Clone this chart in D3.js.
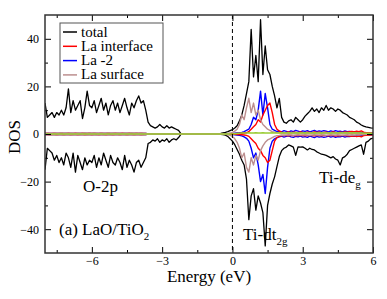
<!DOCTYPE html>
<html lang="en">
<head>
<meta charset="UTF-8">
<title>DOS LaO/TiO2</title>
<style>
  body { margin: 0; background: #fff; }
  svg text { font-family: "Liberation Serif", "DejaVu Serif", serif; fill: #000; }
</style>
</head>
<body>
<div id="chart"></div>
<script src="https://cdn.jsdelivr.net/npm/d3@7/dist/d3.min.js"></script>
<script>
// energy grid: -8 .. 6 eV, step 0.1
let eStart = -8
let eStep = 0.1
let xTicks = [-6, -3, 0, 3, 6]
let xMinor = [-7.5, -4.5, -1.5, 1.5, 4.5]
let yTicks = [-40, -20, 0, 20, 40]
let yMinor = [-30, -10, 10, 30]

// total DOS, spin up / spin down
let total_up = [
  13, 7, 8, 9, 7, 9, 8, 10, 8, 11,
  19, 9, 14, 10, 12, 14, 6.5, 11, 18, 12,
  11, 14, 9, 12, 15, 10, 13, 8, 12, 14,
  10, 13, 9, 12, 15, 11, 8, 13, 11, 14,
  16, 13, 14, 10, 5, 3.5, 3, 2.5, 3, 4,
  3, 2.5, 3.5, 2.5, 3, 2.5, 2, 1.5, 0.2, 0,
  0, 0, 0, 0, 0, 0, 0, 0, 0, 0,
  0, 0, 0, 0, 0.2, 0.3, 0.5, 0.7, 1.0, 1.4,
  1.8, 2.5, 3.5, 5.5, 8, 12, 17, 22, 44, 24,
  33, 22, 48, 25, 37, 27, 25, 20, 16, 11,
  15, 7, 5, 4.5, 5.5, 6, 5, 7, 6, 5,
  6, 7.5, 8.5, 9.5, 11, 9.5, 10.5, 9, 11, 10,
  12, 10, 11, 10.5, 9.5, 10.5, 10, 9, 8.5, 8,
  7, 6.5, 6, 5, 4.5, 3.8, 3.3, 3, 2.8, 2.6, 2.5
]
let total_dn = [
  -15, -6, -7, -8, -11, -9, -12, -10, -13, -8,
  -10, -14, -8, -16, -9, -12, -15, -10, -13, -11,
  -12, -9, -14, -10, -13, -8, -11, -14, -9, -12,
  -13, -10, -12, -15, -9, -14, -11, -13, -16, -12,
  -11, -14, -12, -10, -4, -3.5, -2.5, -3, -2, -3.5,
  -2.5, -3, -2, -3.5, -2.5, -2, -2.5, -1.5, -0.2, 0,
  0, 0, 0, 0, 0, 0, 0, 0, 0, 0,
  0, 0, 0, 0, 0, -0.1, -0.3, -0.5, -1, -2,
  -3, -4.5, -6.5, -8.5, -11, -13, -19, -36, -26, -23,
  -32, -26, -29, -33, -47, -30, -25, -21, -18, -13.7,
  -9.5, -7, -6, -5.5, -4.6, -5, -5.5, -9, -5.4, -5.5,
  -5.4, -6, -6.7, -6, -6.5, -6.7, -7.5, -8, -8.5, -8.7,
  -9, -9.5, -10, -9.5, -10.5, -11, -13, -10, -9.5, -8.5,
  -7, -6.5, -6, -5.5, -5, -4.6, -8.5, -3.5, -3, -2, -1.7
]

// La interface (red)
let laInt_up = [
  0.2, 0.3, 0.2, 0.2, 0.3, 0.2, 0.2, 0.3, 0.2, 0.2,
  0.3, 0.2, 0.2, 0.3, 0.2, 0.2, 0.3, 0.2, 0.2, 0.3,
  0.2, 0.3, 0.2, 0.2, 0.3, 0.2, 0.2, 0.3, 0.2, 0.2,
  0.3, 0.2, 0.2, 0.3, 0.2, 0.2, 0.3, 0.2, 0.2, 0.3,
  0.2, 0.3, 0.2, 0.2, 0, 0, 0, 0, 0, 0,
  0, 0, 0, 0, 0, 0, 0, 0, 0, 0,
  0, 0, 0, 0, 0, 0, 0, 0, 0, 0,
  0, 0, 0, 0, 0, 0, 0, 0, 0, 0.1,
  0.1, 0.1, 0.2, 0.2, 0.3, 0.4, 0.5, 1, 2, 3,
  4, 6, 5, 8, 10, 12, 13, 9, 4, 2,
  1.2, 0.8, 0.6, 0.7, 0.9, 0.6, 0.8, 0.7, 0.6, 0.9,
  0.7, 0.6, 0.8, 0.7, 0.6, 0.9, 0.7, 0.8, 0.6, 0.7,
  0.8, 0.6, 0.7, 0.9, 0.7, 0.6, 0.8, 0.7, 0.9, 0.8,
  1.0, 1.1, 0.9, 1.2, 1.0, 1.3, 0.8, 0.6, 0.5, 0.4, 0.4
]
let laInt_dn = [
  -0.2, -0.2, -0.3, -0.2, -0.2, -0.3, -0.2, -0.2, -0.3, -0.2,
  -0.2, -0.3, -0.2, -0.2, -0.3, -0.2, -0.2, -0.3, -0.2, -0.2,
  -0.3, -0.2, -0.2, -0.3, -0.2, -0.2, -0.3, -0.2, -0.2, -0.3,
  -0.2, -0.2, -0.3, -0.2, -0.2, -0.3, -0.2, -0.2, -0.3, -0.2,
  -0.2, -0.3, -0.2, -0.2, 0, 0, 0, 0, 0, 0,
  0, 0, 0, 0, 0, 0, 0, 0, 0, 0,
  0, 0, 0, 0, 0, 0, 0, 0, 0, 0,
  0, 0, 0, 0, 0, 0, 0, 0, 0, -0.1,
  -0.1, -0.1, -0.2, -0.2, -0.3, -0.4, -0.6, -1, -2, -3,
  -4, -6, -7, -9, -10, -12, -11, -7, -3, -1.5,
  -1, -0.8, -0.6, -0.7, -0.8, -0.6, -0.7, -0.8, -0.6, -0.7,
  -0.6, -0.8, -0.7, -0.6, -0.7, -0.8, -0.6, -0.7, -0.8, -0.6,
  -0.7, -0.8, -0.6, -0.7, -0.9, -0.7, -0.8, -0.6, -0.7, -0.8,
  -0.9, -1.0, -0.8, -1.1, -0.9, -1.2, -0.7, -0.6, -0.5, -0.4, -0.4
]

// La -2 (blue)
let la2_up = [
  0.2, 0.2, 0.2, 0.2, 0.2, 0.2, 0.2, 0.2, 0.2, 0.2,
  0.2, 0.2, 0.2, 0.2, 0.2, 0.2, 0.2, 0.2, 0.2, 0.2,
  0.2, 0.2, 0.2, 0.2, 0.2, 0.2, 0.2, 0.2, 0.2, 0.2,
  0.2, 0.2, 0.2, 0.2, 0.2, 0.2, 0.2, 0.2, 0.2, 0.2,
  0.2, 0.2, 0.2, 0.2, 0, 0, 0, 0, 0, 0,
  0, 0, 0, 0, 0, 0, 0, 0, 0, 0,
  0, 0, 0, 0, 0, 0, 0, 0, 0, 0,
  0, 0, 0, 0, 0, 0, 0, 0, 0.1, 0.1,
  0.2, 0.3, 0.4, 0.5, 0.7, 1, 1.5, 2, 4, 7,
  6, 10, 18, 8, 17, 11, 4, 2, 1.5, 1,
  1.2, 0.9, 1.4, 1.1, 0.8, 1.3, 1.0, 1.5, 1.2, 0.9,
  1.3, 1.1, 1.4, 0.9, 1.2, 1.5, 1.0, 1.3, 1.1, 1.4,
  1.2, 0.9, 1.3, 1.0, 1.4, 1.1, 1.2, 0.9, 1.3, 1.0,
  1.1, 0.9, 1.0, 0.8, 0.9, 0.7, 0.6, 0.5, 0.5, 0.4, 0.4
]
let la2_dn = [
  -0.2, -0.2, -0.2, -0.2, -0.2, -0.2, -0.2, -0.2, -0.2, -0.2,
  -0.2, -0.2, -0.2, -0.2, -0.2, -0.2, -0.2, -0.2, -0.2, -0.2,
  -0.2, -0.2, -0.2, -0.2, -0.2, -0.2, -0.2, -0.2, -0.2, -0.2,
  -0.2, -0.2, -0.2, -0.2, -0.2, -0.2, -0.2, -0.2, -0.2, -0.2,
  -0.2, -0.2, -0.2, -0.2, 0, 0, 0, 0, 0, 0,
  0, 0, 0, 0, 0, 0, 0, 0, 0, 0,
  0, 0, 0, 0, 0, 0, 0, 0, 0, 0,
  0, 0, 0, 0, 0, 0, 0, 0, -0.1, -0.1,
  -0.2, -0.3, -0.4, -0.6, -0.8, -1.2, -1.8, -3, -6, -10,
  -8, -13, -20, -17, -25, -14, -6, -3, -2, -1.5,
  -1.2, -0.9, -1.3, -1.0, -0.8, -1.2, -1.4, -1.0, -1.2, -0.9,
  -1.3, -1.1, -1.4, -0.9, -1.2, -1.5, -1.0, -1.3, -1.1, -1.4,
  -1.2, -0.9, -1.3, -1.0, -1.4, -1.1, -1.2, -0.9, -1.3, -1.0,
  -1.1, -0.9, -1.0, -0.8, -0.9, -0.7, -0.6, -0.5, -0.5, -0.4, -0.4
]

// La surface (rosy brown)
let laSurf_up = [
  0.3, 0.4, 0.3, 0.2, 0.4, 0.3, 0.3, 0.5, 0.3, 0.4,
  0.3, 0.4, 0.3, 0.2, 0.4, 0.3, 0.3, 0.5, 0.3, 0.4,
  0.3, 0.4, 0.3, 0.2, 0.4, 0.3, 0.3, 0.5, 0.3, 0.4,
  0.3, 0.4, 0.3, 0.2, 0.4, 0.3, 0.3, 0.5, 0.3, 0.4,
  0.3, 0.4, 0.3, 0.2, 0, 0, 0, 0, 0, 0,
  0, 0, 0, 0, 0, 0, 0, 0, 0, 0,
  0, 0, 0, 0, 0, 0, 0, 0, 0, 0,
  0, 0, 0, 0, 0, 0, 0, 0.1, 0.2, 0.4,
  0.7, 1.2, 2, 4, 8, 6, 11, 15, 9, 13,
  8, 10, 6, 4, 3, 2, 1.5, 1, 0.8, 0.6,
  0.5, 0.4, 0.5, 0.4, 0.3, 0.4, 0.5, 0.4, 0.3, 0.4,
  0.4, 0.3, 0.4, 0.5, 0.4, 0.3, 0.4, 0.4, 0.3, 0.4,
  0.5, 0.4, 0.3, 0.4, 0.4, 0.3, 0.4, 0.5, 0.4, 0.3,
  0.4, 0.3, 0.4, 0.3, 0.3, 0.3, 0.2, 0.2, 0.2, 0.2, 0.2
]
let laSurf_dn = [
  -0.3, -0.3, -0.4, -0.2, -0.3, -0.4, -0.3, -0.3, -0.4, -0.3,
  -0.3, -0.3, -0.4, -0.2, -0.3, -0.4, -0.3, -0.3, -0.4, -0.3,
  -0.3, -0.3, -0.4, -0.2, -0.3, -0.4, -0.3, -0.3, -0.4, -0.3,
  -0.3, -0.3, -0.4, -0.2, -0.3, -0.4, -0.3, -0.3, -0.4, -0.3,
  -0.3, -0.3, -0.4, -0.2, 0, 0, 0, 0, 0, 0,
  0, 0, 0, 0, 0, 0, 0, 0, 0, 0,
  0, 0, 0, 0, 0, 0, 0, 0, 0, 0,
  0, 0, 0, 0, 0, 0, 0, -0.1, -0.3, -0.6,
  -1, -2, -3.5, -6, -10, -8, -14, -16, -10, -13,
  -9, -11, -7, -5, -3.5, -2.5, -2, -1.5, -1, -0.7,
  -0.6, -0.4, -0.5, -0.4, -0.3, -0.4, -0.5, -0.4, -0.3, -0.4,
  -0.4, -0.3, -0.4, -0.5, -0.4, -0.3, -0.4, -0.4, -0.3, -0.4,
  -0.5, -0.4, -0.3, -0.4, -0.4, -0.3, -0.4, -0.5, -0.4, -0.3,
  -0.4, -0.3, -0.4, -0.3, -0.3, -0.3, -0.2, -0.2, -0.2, -0.2, -0.2
]

// small green curve near zero in the conduction band (not in legend)
let green_up = [
  0, 0, 0, 0, 0, 0, 0, 0, 0, 0,
  0, 0, 0, 0, 0, 0, 0, 0, 0, 0,
  0, 0, 0, 0, 0, 0, 0, 0, 0, 0,
  0, 0, 0, 0, 0, 0, 0, 0, 0, 0,
  0, 0, 0, 0, 0, 0, 0, 0, 0, 0,
  0, 0, 0, 0, 0, 0, 0, 0, 0, 0,
  0, 0, 0, 0, 0, 0, 0, 0, 0, 0,
  0, 0, 0, 0, 0, 0, 0, 0, 0, 0,
  0, 0.1, 0.2, 0.3, 0.4, 0.4, 0.4, 0.5, 0.4, 0.4,
  0.5, 0.4, 0.4, 0.5, 0.4, 0.4, 0.4, 0.5, 0.4, 0.4,
  0.4, 0.5, 0.4, 0.4, 0.5, 0.4, 0.4, 0.4, 0.5, 0.4,
  0.4, 0.5, 0.4, 0.4, 0.4, 0.5, 0.4, 0.4, 0.5, 0.4,
  0.4, 0.4, 0.5, 0.4, 0.4, 0.5, 0.4, 0.4, 0.4, 0.5,
  0.4, 0.4, 0.5, 0.4, 0.4, 0.4, 0.3, 0.3, 0.3, 0.3, 0.3
]

let series = [
  { name: 'total', up: total_up, dn: total_dn, color: '#000000', w: 1.3 },
  { name: 'La -2', up: la2_up, dn: la2_dn, color: '#0000ff', w: 1.4 },
  { name: 'La interface', up: laInt_up, dn: laInt_dn, color: '#ff0000', w: 1.4 },
  { name: 'La surface', up: laSurf_up, dn: laSurf_dn, color: '#bc8f8f', w: 1.4 },
  { name: '', up: green_up, dn: null, color: '#99cc33', w: 1.4 }
]
let legendItems = ['total', 'La interface', 'La -2', 'La surface']
let legendColors = ['#000000', '#ff0000', '#0000ff', '#bc8f8f']

let W = 387, H = 299
let L = 45, R = 373, T = 15, B = 253
let serif = '"Liberation Serif", "DejaVu Serif", serif'

let svg = d3.select('#chart').append('svg').attr('width', W).attr('height', H)
  .attr('font-family', serif)

let x = d3.scaleLinear().domain([-8, 6]).range([L, R])
let y = d3.scaleLinear().domain([-50, 50]).range([B, T])

let clip = svg.append('clipPath').attr('id', 'clip')
clip.append('rect').attr('x', L).attr('y', T).attr('width', R - L).attr('height', B - T)

let plot = svg.append('g').attr('clip-path', 'url(#clip)')

let line = d3.line()
  .x((d, i) => x(eStart + i * eStep))
  .y(d => y(d))

series.forEach(s => {
  [s.up, s.dn].forEach(arr => {
    if (!arr) return
    plot.append('path')
      .datum(arr)
      .attr('d', line)
      .attr('fill', 'none')
      .attr('stroke', s.color)
      .attr('stroke-width', s.w)
      .attr('stroke-linejoin', 'round')
  })
})

// Fermi level
svg.append('line')
  .attr('x1', x(0)).attr('x2', x(0))
  .attr('y1', T).attr('y2', B)
  .attr('stroke', '#000').attr('stroke-width', 1)
  .attr('stroke-dasharray', '4,3')

// axes, ticks pointing inward on all four sides
function styleAxis (g) {
  g.attr('font-family', serif).attr('font-size', 12)
  g.select('.domain').remove()
  g.selectAll('line').attr('stroke', '#000').attr('stroke-width', 1)
}
svg.append('g').attr('transform', 'translate(0,' + B + ')')
  .call(d3.axisBottom(x).tickValues(xTicks).tickSize(-6).tickPadding(3).tickFormat(d3.format('d')))
  .call(styleAxis)
svg.append('g').attr('transform', 'translate(0,' + B + ')')
  .call(d3.axisBottom(x).tickValues(xMinor).tickSize(-3).tickFormat(''))
  .call(styleAxis)
svg.append('g').attr('transform', 'translate(0,' + T + ')')
  .call(d3.axisTop(x).tickValues(xTicks).tickSize(-6).tickFormat(''))
  .call(styleAxis)
svg.append('g').attr('transform', 'translate(0,' + T + ')')
  .call(d3.axisTop(x).tickValues(xMinor).tickSize(-3).tickFormat(''))
  .call(styleAxis)
svg.append('g').attr('transform', 'translate(' + L + ',0)')
  .call(d3.axisLeft(y).tickValues(yTicks).tickSize(-6).tickPadding(6).tickFormat(d3.format('d')))
  .call(styleAxis)
svg.append('g').attr('transform', 'translate(' + L + ',0)')
  .call(d3.axisLeft(y).tickValues(yMinor).tickSize(-3).tickFormat(''))
  .call(styleAxis)
svg.append('g').attr('transform', 'translate(' + R + ',0)')
  .call(d3.axisRight(y).tickValues(yTicks).tickSize(-6).tickFormat(''))
  .call(styleAxis)
svg.append('g').attr('transform', 'translate(' + R + ',0)')
  .call(d3.axisRight(y).tickValues(yMinor).tickSize(-3).tickFormat(''))
  .call(styleAxis)

svg.append('rect')
  .attr('x', L).attr('y', T).attr('width', R - L).attr('height', B - T)
  .attr('fill', 'none').attr('stroke', '#333').attr('stroke-width', 1.5)

// axis titles
svg.append('text').text('Energy (eV)')
  .attr('x', 209).attr('y', 282).attr('text-anchor', 'middle').attr('font-size', 17)
svg.append('text').text('DOS')
  .attr('transform', 'translate(20,137) rotate(-90)')
  .attr('text-anchor', 'middle').attr('font-size', 17)

// legend
let lg = svg.append('g')
lg.append('rect').attr('x', 60).attr('y', 23).attr('width', 103).attr('height', 60)
  .attr('fill', '#fff').attr('stroke', '#555').attr('stroke-width', 1)
legendItems.forEach((name, i) => {
  let yy = 36.5 + i * 14.3
  lg.append('line').attr('x1', 63).attr('x2', 77).attr('y1', yy - 4.5).attr('y2', yy - 4.5)
    .attr('stroke', legendColors[i]).attr('stroke-width', 1.5)
  lg.append('text').text(name).attr('x', 81).attr('y', yy).attr('font-size', 15)
})

// annotations
function label (xx, yy, main, sub) {
  let t = svg.append('text').attr('x', xx).attr('y', yy).attr('font-size', 17)
  t.append('tspan').text(main)
  if (sub) t.append('tspan').text(sub).attr('font-size', 11).attr('dy', 5)
}
label(83, 192, 'O-2p')
label(59, 235, '(a) LaO/TiO', '2')
label(319, 183, 'Ti-de', 'g')
label(243, 240, 'Ti-dt', '2g')
</script>
</body>
</html>
